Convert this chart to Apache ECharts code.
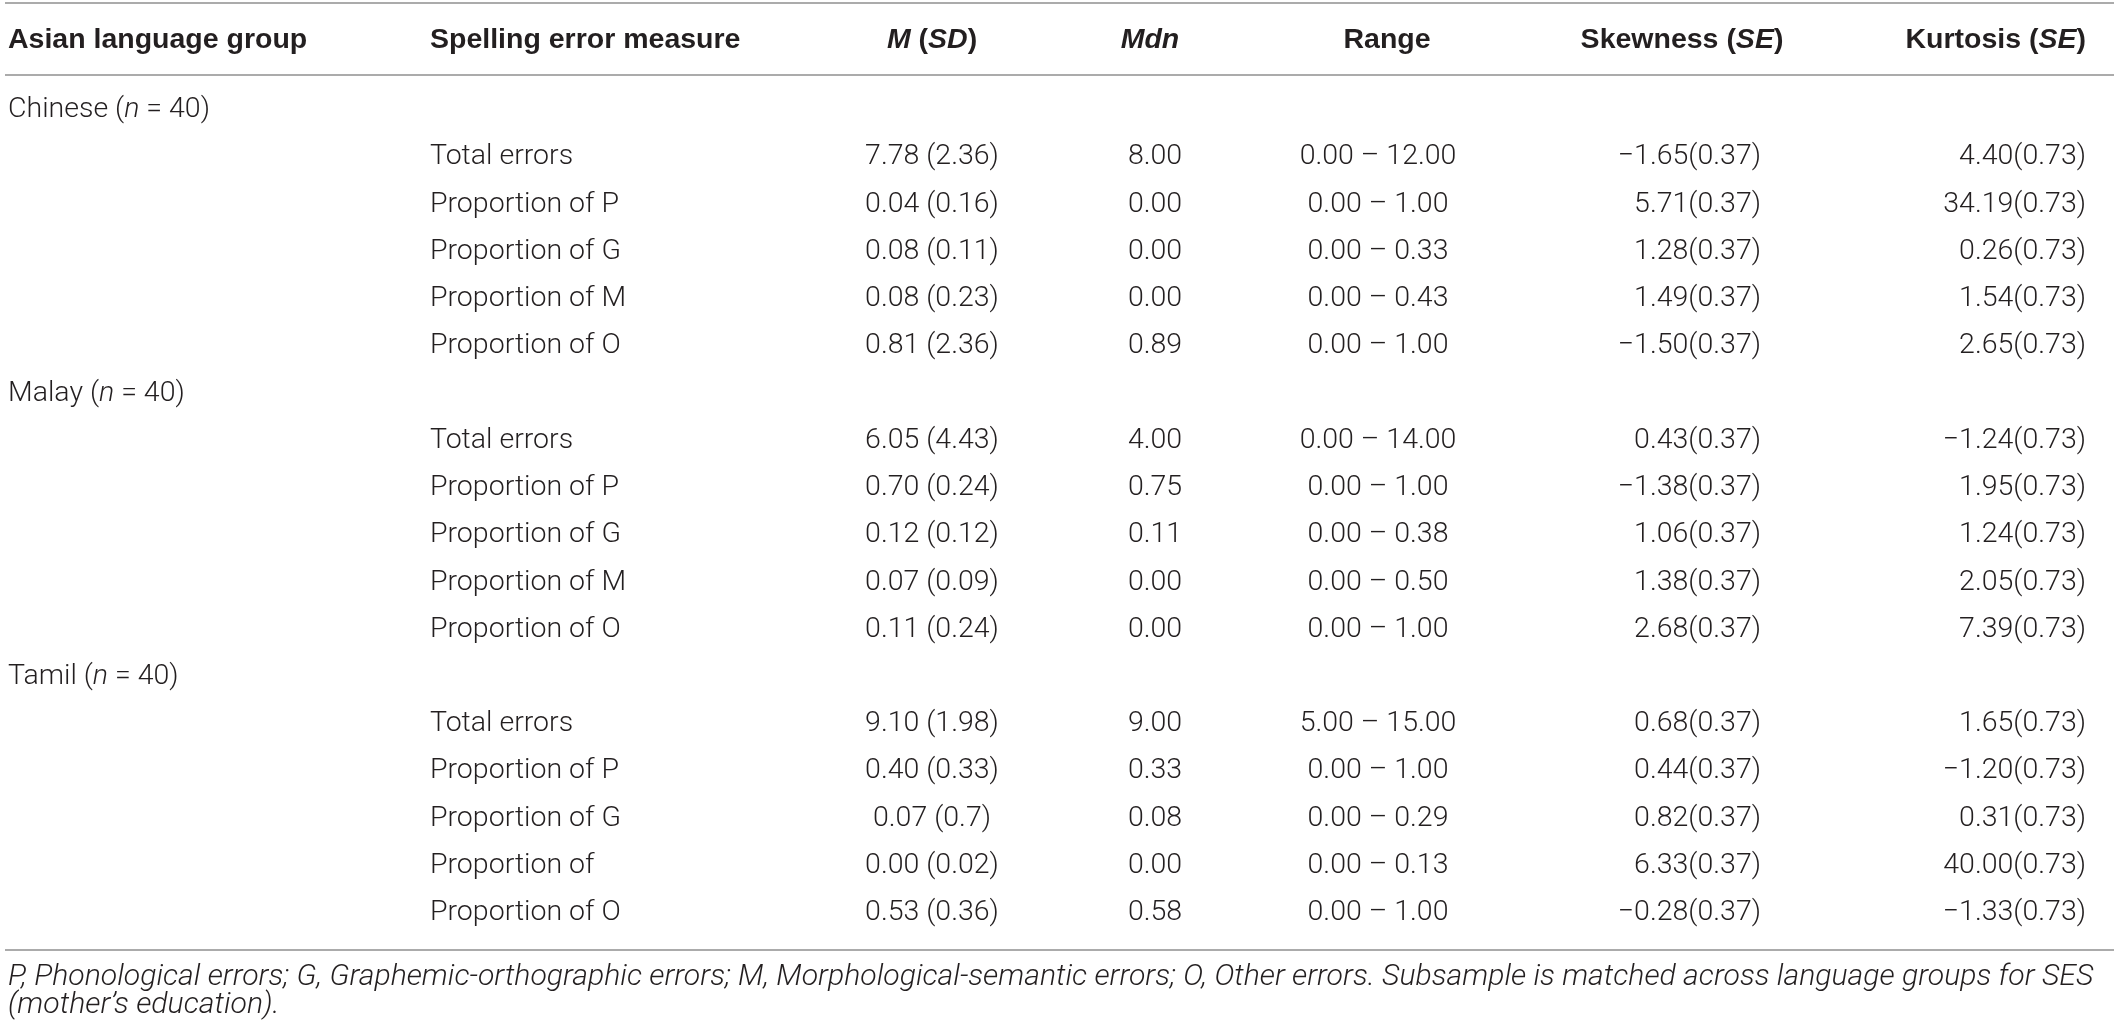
<!DOCTYPE html>
<html>
<head>
<meta charset="utf-8">
<script src="https://cdn.jsdelivr.net/npm/echarts@6/dist/echarts.min.js"></script>
<style>
    html, body { margin: 0; padding: 0; background: #fff; }
    #main { width: 2119px; height: 1032px; }
</style>
</head>
<body>
<div id="main"></div>
<script type="text/javascript">
    // table data
    var groups = ['Chinese', 'Malay', 'Tamil'];
    var groupN = [40, 40, 40];
    var measures = [
        ['Total errors', 'Proportion of P', 'Proportion of G', 'Proportion of M', 'Proportion of O'],
        ['Total errors', 'Proportion of P', 'Proportion of G', 'Proportion of M', 'Proportion of O'],
        ['Total errors', 'Proportion of P', 'Proportion of G', 'Proportion of', 'Proportion of O']
    ];
    var means = [
        ['7.78', '0.04', '0.08', '0.08', '0.81'],
        ['6.05', '0.70', '0.12', '0.07', '0.11'],
        ['9.10', '0.40', '0.07', '0.00', '0.53']
    ];
    var sds = [
        ['2.36', '0.16', '0.11', '0.23', '2.36'],
        ['4.43', '0.24', '0.12', '0.09', '0.24'],
        ['1.98', '0.33', '0.7', '0.02', '0.36']
    ];
    var medians = [
        ['8.00', '0.00', '0.00', '0.00', '0.89'],
        ['4.00', '0.75', '0.11', '0.00', '0.00'],
        ['9.00', '0.33', '0.08', '0.00', '0.58']
    ];
    var rangeMin = [
        ['0.00', '0.00', '0.00', '0.00', '0.00'],
        ['0.00', '0.00', '0.00', '0.00', '0.00'],
        ['5.00', '0.00', '0.00', '0.00', '0.00']
    ];
    var rangeMax = [
        ['12.00', '1.00', '0.33', '0.43', '1.00'],
        ['14.00', '1.00', '0.38', '0.50', '1.00'],
        ['15.00', '1.00', '0.29', '0.13', '1.00']
    ];
    var skewness = [
        ['−1.65', '5.71', '1.28', '1.49', '−1.50'],
        ['0.43', '−1.38', '1.06', '1.38', '2.68'],
        ['0.68', '0.44', '0.82', '6.33', '−0.28']
    ];
    var skewSE = '0.37';
    var kurtosis = [
        ['4.40', '34.19', '0.26', '1.54', '2.65'],
        ['−1.24', '1.95', '1.24', '2.05', '7.39'],
        ['1.65', '−1.20', '0.31', '40.00', '−1.33']
    ];
    var kurtSE = '0.73';
    var headers = [
        '{h|Asian language group}',
        '{h|Spelling error measure}',
        '{hi|M}{h| (}{hi|SD}{h|)}',
        '{hi|Mdn}',
        '{h|Range}',
        '{h|Skewness (}{hi|SE}{h|)}',
        '{h|Kurtosis (}{hi|SE}{h|)}'
    ];
    var footnotes = [
        'P, Phonological errors; G, Graphemic-orthographic errors; M, Morphological-semantic errors; O, Other errors. Subsample is matched across language groups for SES',
        '(mother’s education).'
    ];

    // layout
    var W = 2119, H = 1032;
    var ROW0 = 110, STEP = 47.24;
    var headerRow = (40 - ROW0) / STEP;
    var rules = [(3 - ROW0) / STEP, (75 - ROW0) / STEP, (950 - ROW0) / STEP];
    var footRows = [(977 - ROW0) / STEP, (1005 - ROW0) / STEP];
    // anchor x and alignment per column: body / header
    var colX = [8, 430, 932, 1155, 1378, 1761, 2086];
    var colAlign = ['left', 'left', 'center', 'center', 'center', 'right', 'right'];
    var headX = [8, 430, 932, 1150, 1387, 1682, 2086];
    var headAlign = ['left', 'left', 'center', 'center', 'center', 'center', 'right'];

    var FONT = 'Roboto, "Liberation Sans", sans-serif';
    var BOLD = '"Liberation Sans", Arial, sans-serif';
    var INK = '#231f20';
    var rich = {
        t: { fontFamily: FONT, fontSize: 28.5, fontWeight: 300, fill: INK },
        ti: { fontFamily: FONT, fontSize: 28.5, fontWeight: 300, fontStyle: 'italic', fill: INK },
        h: { fontFamily: BOLD, fontSize: 28.5, fontWeight: 'bold', fill: INK },
        hi: { fontFamily: BOLD, fontSize: 28.5, fontWeight: 'bold', fontStyle: 'italic', fill: INK },
        f: { fontFamily: FONT, fontSize: 30.2, fontWeight: 300, fontStyle: 'italic', fill: INK }
    };

    // build cells
    var cells = [];
    headers.forEach(function (h, c) {
        cells.push({ x: headX[c], row: headerRow, text: h, align: headAlign[c] });
    });
    groups.forEach(function (g, gi) {
        var base = gi * 6;
        cells.push({ x: colX[0], row: base, text: '{t|' + g + ' (}{ti|n}{t| = ' + groupN[gi] + ')}', align: colAlign[0] });
        measures[gi].forEach(function (m, i) {
            var r = base + 1 + i;
            var row = [
                m,
                means[gi][i] + ' (' + sds[gi][i] + ')',
                medians[gi][i],
                rangeMin[gi][i] + ' – ' + rangeMax[gi][i],
                skewness[gi][i] + '(' + skewSE + ')',
                kurtosis[gi][i] + '(' + kurtSE + ')'
            ];
            row.forEach(function (txt, k) {
                cells.push({ x: colX[k + 1], row: r, text: '{t|' + txt + '}', align: colAlign[k + 1] });
            });
        });
    });
    footnotes.forEach(function (f, i) {
        cells.push({ x: 8, row: footRows[i], text: '{f|' + f + '}', align: 'left' });
    });

    var myChart = echarts.init(document.getElementById('main'));

    var option = {
        backgroundColor: '#fff',
        animation: false,
        grid: { left: 0, right: 0, top: 0, bottom: 0 },
        xAxis: { type: 'value', min: 0, max: W, show: false },
        yAxis: { type: 'value', inverse: true, min: -ROW0 / STEP, max: (H - ROW0) / STEP, show: false },
        series: [
            {
                type: 'custom',
                name: 'rules',
                silent: true,
                clip: false,
                data: rules.map(function (v) { return [0, v]; }),
                renderItem: function (params, api) {
                    var a = api.coord([5, api.value(1)]);
                    var b = api.coord([W - 5, api.value(1)]);
                    return {
                        type: 'line',
                        shape: { x1: a[0], y1: a[1], x2: b[0], y2: b[1] },
                        style: { stroke: '#8f8f8f', lineWidth: 1.6 }
                    };
                }
            },
            {
                type: 'custom',
                name: 'cells',
                silent: true,
                clip: false,
                data: cells.map(function (c) { return [c.x, c.row]; }),
                renderItem: function (params, api) {
                    var c = cells[params.dataIndex];
                    var p = api.coord([api.value(0), api.value(1)]);
                    return {
                        type: 'text',
                        x: p[0],
                        y: p[1],
                        style: {
                            text: c.text,
                            rich: rich,
                            align: c.align,
                            verticalAlign: 'middle'
                        }
                    };
                }
            }
        ]
    };

    myChart.setOption(option);
</script>
</body>
</html>
